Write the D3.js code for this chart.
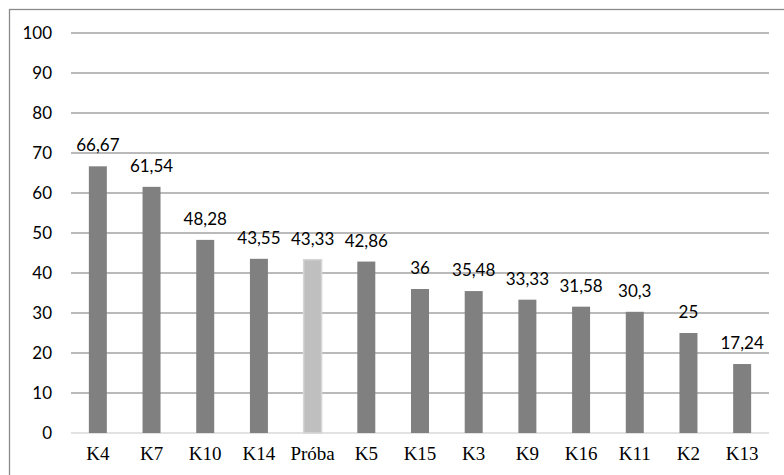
<!DOCTYPE html>
<html>
<head>
<meta charset="utf-8">
<script src="https://cdn.jsdelivr.net/npm/d3@7"></script>
<style>
  html, body { margin: 0; padding: 0; background: #fff; }
  svg { display: block; }
</style>
</head>
<body>
<svg id="chart" width="784" height="475"></svg>
<script>
// Categories in display order, their values, and which bar is the reference sample
const categories = ["K4", "K7", "K10", "K14", "Próba", "K5", "K15", "K3", "K9", "K16", "K11", "K2", "K13"];
const values = [66.67, 61.54, 48.28, 43.55, 43.33, 42.86, 36, 35.48, 33.33, 31.58, 30.3, 25, 17.24];
const valueLabels = ["66,67", "61,54", "48,28", "43,55", "43,33", "42,86", "36", "35,48", "33,33", "31,58", "30,3", "25", "17,24"];
const highlight = ["Próba"];
const yTicks = [0, 10, 20, 30, 40, 50, 60, 70, 80, 90, 100];

const svg = d3.select("#chart");
const W = 784, H = 475;

// Outer chart frame
svg.append("rect")
  .attr("x", 9.5).attr("y", 9.5)
  .attr("width", W).attr("height", H)
  .attr("fill", "#fff")
  .attr("stroke", "#8a8a8a").attr("stroke-width", 1.3);

const plot = { left: 71, right: 769, top: 33, bottom: 433 };

const x = d3.scaleBand().domain(categories).range([plot.left, plot.right]).paddingInner(0.665).paddingOuter(0.3325);
const y = d3.scaleLinear().domain([0, 100]).range([plot.bottom, plot.top]);

// Horizontal gridlines
svg.append("g")
  .selectAll("line")
  .data(yTicks)
  .join("line")
  .attr("x1", plot.left).attr("x2", plot.right)
  .attr("y1", d => y(d)).attr("y2", d => y(d))
  .attr("stroke", d => d === 0 ? "#d9d9d9" : "#a3a3a3")
  .attr("stroke-width", 1.5);

// Y axis labels
const yAxis = d3.axisLeft(y).tickValues(yTicks).tickSize(0).tickPadding(0).tickFormat(d3.format("d"));
const yg = svg.append("g").attr("transform", "translate(52,0)").call(yAxis);
yg.select(".domain").remove();
yg.selectAll("text")
  .attr("font-family", "Lato, 'Open Sans', sans-serif")
  .attr("font-size", 17)
  .attr("fill", "#000");

// Bars
svg.append("g")
  .selectAll("rect")
  .data(values)
  .join("rect")
  .attr("x", (d, i) => x(categories[i]))
  .attr("width", x.bandwidth())
  .attr("y", d => y(d))
  .attr("height", d => y(0) - y(d))
  .attr("fill", (d, i) => highlight.includes(categories[i]) ? "#bfbfbf" : "#808080")
  .attr("stroke", (d, i) => highlight.includes(categories[i]) ? "#d6d6d6" : "none")
  .attr("stroke-width", 1.5);

// Value labels above the bars
svg.append("g")
  .selectAll("text")
  .data(values)
  .join("text")
  .attr("x", (d, i) => x(categories[i]) + x.bandwidth() / 2)
  .attr("y", d => y(d) - 15)
  .attr("text-anchor", "middle")
  .attr("font-family", "Lato, 'Open Sans', sans-serif")
  .attr("font-size", 17)
  .attr("fill", "#000")
  .text((d, i) => valueLabels[i]);

// Category axis
const xAxis = d3.axisBottom(x).tickSize(0).tickPadding(0);
const xg = svg.append("g").attr("transform", "translate(0,460)").call(xAxis);
xg.select(".domain").remove();
xg.selectAll("text")
  .attr("dy", 0)
  .attr("font-family", "'Liberation Serif', 'Times New Roman', serif")
  .attr("font-size", 19)
  .attr("fill", "#000");
</script>
</body>
</html>
